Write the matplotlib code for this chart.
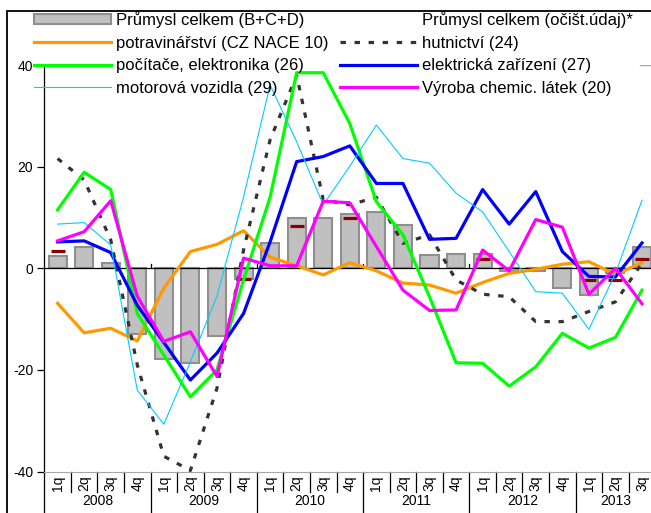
import numpy as np
import matplotlib.pyplot as plt
from matplotlib.lines import Line2D
from matplotlib.patches import Patch, Rectangle
import matplotlib.transforms as mtransforms

plt.rcParams['font.family'] = ['Liberation Sans', 'DejaVu Sans']
plt.rcParams['axes.unicode_minus'] = False

# ctvrtleti 2008q1 - 2013q3
kvartaly = ['1q', '2q', '3q', '4q'] * 5 + ['1q', '2q', '3q']
roky = ['2008', '2009', '2010', '2011', '2012', '2013']

# y/y v %
celkem = [2.5, 4.1, 1.1, -12.9, -17.9, -18.7, -13.3, -2.1, 5.0, 9.9, 9.9, 10.7,
          11.1, 8.6, 2.6, 2.8, 2.8, -0.5, -0.6, -3.8, -5.2, -1.0, 4.2]
ocist = [3.4, np.nan, np.nan, np.nan, np.nan, np.nan, np.nan, -2.2, np.nan, 8.3, np.nan, 9.9,
         np.nan, np.nan, np.nan, np.nan, 1.8, np.nan, np.nan, np.nan, -2.3, -2.3, 1.8]
potrav = [-6.9, -12.7, -11.8, -14.3, -3.9, 3.3, 4.7, 7.4, 2.2, 0.5, -1.3, 1.1,
          -0.5, -2.9, -3.3, -4.9, -2.8, -1.0, -0.2, 0.8, 1.3, -1.2, 1.1]
hutnictvi = [21.6, 17.4, 5.6, -19.0, -37.0, -39.8, -23.6, 3.6, 25.3, 38.0, 13.5, 12.5,
             14.0, 4.9, 6.6, -2.3, -5.1, -5.6, -10.5, -10.5, -8.5, -6.6, 1.0]
pocitace = [11.5, 18.9, 15.5, -8.9, -17.1, -25.3, -20.0, -2.3, 14.0, 38.5, 38.5, 28.5,
            13.1, 6.6, -5.6, -18.6, -18.7, -23.2, -19.4, -12.8, -15.7, -13.6, -4.3]
elektro = [5.2, 5.4, 3.1, -7.3, -14.6, -22.0, -16.7, -8.9, 5.2, 21.0, 22.0, 24.1,
           16.7, 16.7, 5.7, 5.9, 15.5, 8.7, 15.1, 3.3, -1.6, -1.7, 5.0]
chemie = [5.4, 7.2, 13.3, -5.5, -14.4, -12.5, -21.3, 2.0, 0.5, 0.5, 13.2, 12.9,
          4.3, -4.3, -8.3, -8.2, 3.6, -0.5, 9.6, 8.1, -5.1, 0.0, -7.0]
auta = [8.7, 9.0, 4.6, -24.0, -30.7, -18.4, -5.5, 14.0, 36.1, 24.9, 12.5, 20.1,
        28.2, 21.6, 20.7, 14.8, 11.1, 3.3, -4.6, -4.9, -12.0, -1.0, 13.4]

x = np.arange(len(kvartaly))

W, H = 651, 513
fig = plt.figure(figsize=(W / 100, H / 100), dpi=100)
ax = fig.add_axes([44.3 / W, 41.5 / H, 611 / W, 406.4 / H])

ax.bar(x, celkem, width=0.68, color='#c0c0c0', edgecolor='#8f8f8f', linewidth=1.5, zorder=2)
ax.axhline(0, color='black', lw=0.9, zorder=2.5)
ax.plot(x, ocist, linestyle='none', marker='_', markersize=9.5, mew=2.3, color='#8b0000', zorder=3)

ax.plot(x, potrav, color='#ff9900', lw=2.3, zorder=4)
ax.plot(x, hutnictvi, color='#333333', lw=2.3, dashes=(1.7, 2.7), zorder=4)
ax.plot(x, pocitace, color='#00ff00', lw=2.3, zorder=4)
ax.plot(x, elektro, color='#0000ff', lw=2.3, zorder=4)
ax.plot(x, auta, color='#00ccff', lw=0.8, zorder=4)
ax.plot(x, chemie, color='#ff00ff', lw=2.3, zorder=4)

ax.set_xlim(-0.5, 22.5)
ax.set_ylim(-40, 40)
ax.set_yticks([-40, -20, 0, 20, 40])
ax.tick_params(axis='y', direction='out', length=5, width=0.9, labelsize=10, pad=3)
ax.set_xticks([])
ax.spines['top'].set_visible(False)
ax.spines['right'].set_visible(False)
ax.spines['bottom'].set_color('#a6a6a6')
ax.spines['left'].set_linewidth(0.9)
ax.axhline(40, xmin=0.975, color='#a6a6a6', lw=1)

# popisky osy x
tr = mtransforms.blended_transform_factory(ax.transData, ax.transAxes)
for i, q in enumerate(kvartaly):
    ax.text(i, -0.028, q, transform=tr, rotation=90, ha='center', va='center', fontsize=10)
for j, r in enumerate(roky):
    stred = min(4 * j + 1.5, len(kvartaly) - 2)
    ax.text(stred, -0.073, r, transform=tr, ha='center', va='center', fontsize=10)
for b in np.arange(-0.5, len(kvartaly) - 0.5):
    if b % 4 == 3.5 or b == -0.5:
        ax.plot([b, b], [0, -0.2], transform=tr, color='black', lw=0.9, clip_on=False)
        if b > 0:
            ax.plot([b, b], [0, 0.8], color='black', lw=0.9, zorder=2.5)
    else:
        ax.plot([b, b], [0, -0.05], transform=tr, color='black', lw=0.9, clip_on=False)

# legenda
handles = [
    Patch(facecolor='#c0c0c0', edgecolor='#8f8f8f', lw=1.5),
    Line2D([], [], color='#ff9900', lw=2.3),
    Line2D([], [], color='#00ff00', lw=2.3),
    Line2D([], [], color='#00ccff', lw=0.8),
    Line2D([], [], color='none'),
    Line2D([], [], color='#333333', lw=2.3, dashes=(1.7, 2.7)),
    Line2D([], [], color='#0000ff', lw=2.3),
    Line2D([], [], color='#ff00ff', lw=2.3),
]
labels = ['Průmysl celkem (B+C+D)', 'potravinářství (CZ NACE 10)', 'počítače, elektronika (26)',
          'motorová vozidla (29)', 'Průmysl celkem (očišt.údaj)*', 'hutnictví (24)',
          'elektrická zařízení (27)', 'Výroba chemic. látek (20)']
ax.legend(handles, labels, ncol=2, loc='upper left', bbox_to_anchor=(34 / W, 1 - 11 / H),
          bbox_transform=fig.transFigure, frameon=False, fontsize=12, borderpad=0,
          borderaxespad=0, handlelength=4.6, handleheight=0.55, handletextpad=0.3,
          columnspacing=0.7, labelspacing=0.46)

fig.patches.append(Rectangle((7 / W, -0.1), 1.0, 1 - 10.7 / H + 0.1, transform=fig.transFigure,
                             fill=False, edgecolor='black', lw=1.3))
# nadpis je v predloze oriznuty hornim okrajem
fig.text(588 / W, 1 + 5 / H, 'Index produkce v klíčových odvětvích (y/y, v %)', ha='right',
         va='baseline', fontsize=14, fontweight='bold')

fig.savefig('out.png', dpi=100)
